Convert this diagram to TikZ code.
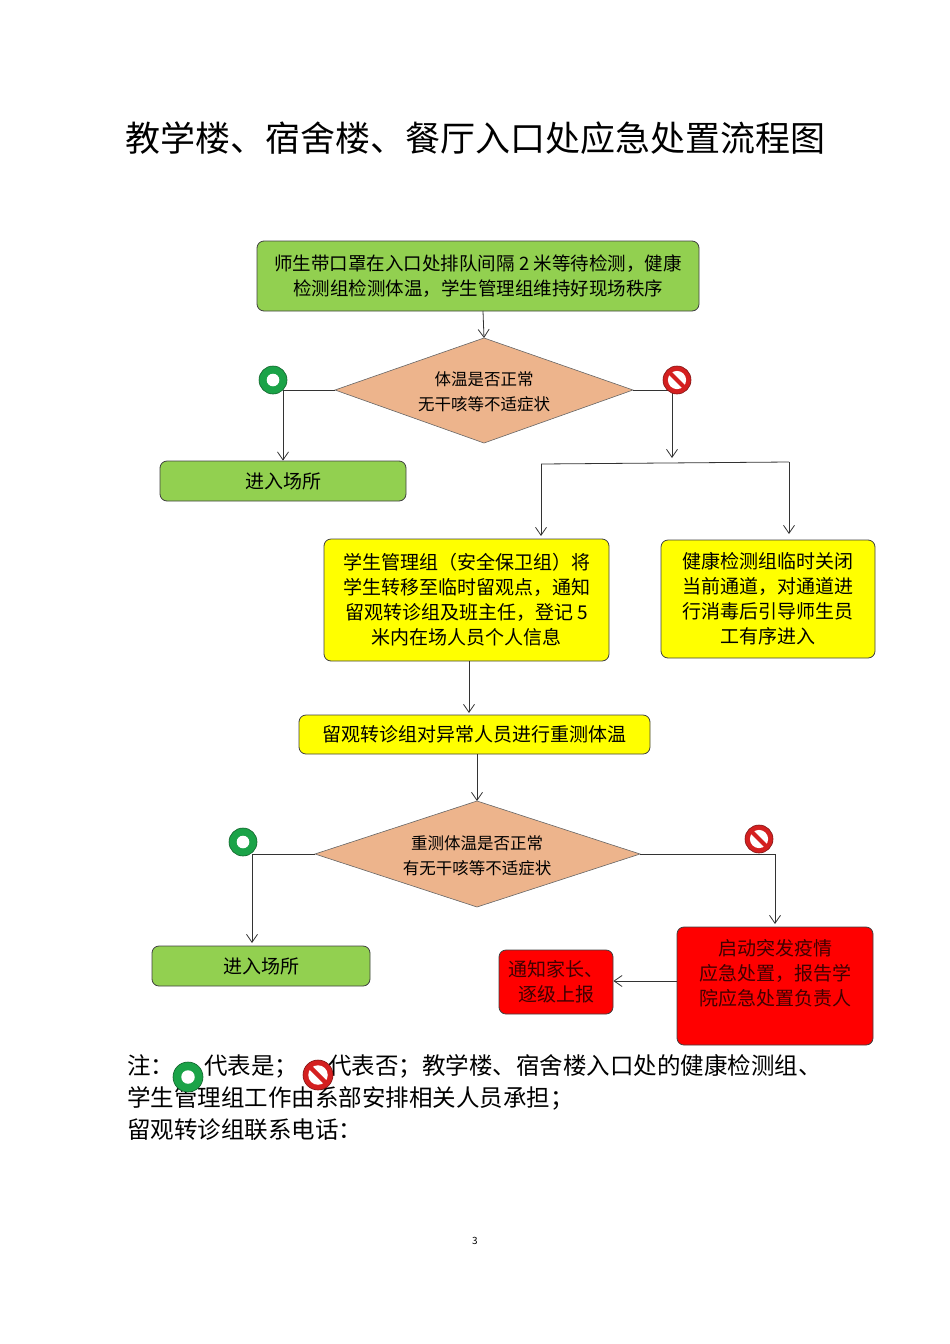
\documentclass[tikz,border=0pt]{standalone}
\usepackage{fontspec}
\setmainfont{Noto Sans CJK SC}
\usetikzlibrary{arrows.meta,calc}
\definecolor{gbox}{HTML}{92D050}
\definecolor{ybox}{HTML}{FFFF00}
\definecolor{rbox}{HTML}{FF0000}
\definecolor{dia}{HTML}{EDB48C}
\definecolor{okg}{HTML}{1BA348}
\definecolor{nor}{HTML}{D42020}
\begin{document}
\begin{tikzpicture}[x=1pt,y=-1pt,
  bx/.style={draw=black!75,line width=0.8pt,rounded corners=7pt,align=center,font=\fontsize{19}{25}\selectfont},
  dm/.style={draw=black!60,fill=dia,line width=0.6pt},
  ar/.style={-{Straight Barb[length=8pt,width=11pt]},line width=0.8pt,draw=black!80},
  ln/.style={line width=0.8pt,draw=black!80}]
\useasboundingbox (0,0) rectangle (950,1344);
\newcommand{\okicon}[2]{\fill[okg,draw=okg!60!black,line width=0.6pt] (#1) circle (#2); \fill[white] (#1) circle (#2*0.45);}
\newcommand{\noicon}[2]{\fill[nor,draw=nor!60!black,line width=0.6pt] (#1) circle (#2); \fill[white] (#1) circle (#2*0.65);
  \draw[nor,line width=#2*0.3pt] ($(#1)+(-#2*0.5,-#2*0.5)$) -- ($(#1)+(#2*0.5,#2*0.5)$);}
\node[font=\fontsize{35}{40}\selectfont] (title) at (475,138) {教学楼、宿舍楼、餐厅入口处应急处置流程图};
\node[bx,fill=gbox,minimum width=442pt,minimum height=70pt,font=\fontsize{18.5}{25}\selectfont] (b1) at (478,276) {师生带口罩在入口处排队间隔 2 米等待检测，健康\\检测组检测体温，学生管理组维持好现场秩序};
\draw[dm] (335,390) coordinate (d1l) -- (484,338) coordinate (d1t) -- (633,390) coordinate (d1r) -- (484,443) -- cycle;
\node[font=\fontsize{16.5}{25}\selectfont,align=center] (d1) at (484,392) {体温是否正常\\无干咳等不适症状};
\draw[ar] (483,311) -- (d1t);
\coordinate (g1) at (273,380); \coordinate (r1) at (677,380);
\node[bx,fill=gbox,minimum width=246pt,minimum height=40pt] (e1) at (283,481) {进入场所};
\draw[ln] (d1l) -- (283,390);
\draw[ar] (283,390) -- (e1.north);
\draw[ln] (d1r) -- (672,390);
\draw[ar] (672,390) -- (672,458);
\okicon{g1}{14}
\noicon{r1}{14}
\node[bx,fill=ybox,minimum width=285pt,minimum height=122pt] (ya) at (466.5,600) {学生管理组（安全保卫组）将\\学生转移至临时留观点，通知\\留观转诊组及班主任，登记 5\\米内在场人员个人信息};
\node[bx,fill=ybox,minimum width=214pt,minimum height=118pt] (yb) at (768,599) {健康检测组临时关闭\\当前通道，对通道进\\行消毒后引导师生员\\工有序进入};
\draw[ln] (541,464) -- (789,462);
\draw[ar] (541,464) -- (541,536);
\draw[ar] (789,462) -- (789,534);
\node[bx,fill=ybox,minimum width=351pt,minimum height=39pt] (c) at (474.5,734.5) {留观转诊组对异常人员进行重测体温};
\draw[ar] (469,661) -- (469,713);
\draw[dm] (315,854) coordinate (d2l) -- (477,801) coordinate (d2t) -- (640,854) coordinate (d2r) -- (477,907) -- cycle;
\node[font=\fontsize{16.5}{25}\selectfont,align=center] (d2) at (477,856) {重测体温是否正常\\有无干咳等不适症状};
\draw[ar] (477,754) -- (d2t);
\node[bx,fill=gbox,minimum width=218pt,minimum height=40pt] (e2) at (261,966) {进入场所};
\draw[ln] (d2l) -- (252,854);
\draw[ar] (252,854) -- (252,943);
\draw[ln] (d2r) -- (775,854);
\draw[ar] (775,854) -- (775,924);
\okicon{243,842}{14}
\noicon{759,839}{14}
\node[bx,fill=rbox,minimum width=196pt,minimum height=118pt] (rd) at (775,986) {};
\node[bx,draw=none,text=black!75!red] (rdt) at (775,973) {启动突发疫情\\应急处置，报告学\\院应急处置负责人};
\node[bx,fill=rbox,text=black!75!red,minimum width=114pt,minimum height=64pt] (re) at (556,982) {通知家长、\\逐级上报};
\draw[ar] (rd.west |- 0,981) -- (re.east |- 0,981);
\node[anchor=north west,align=left,font=\fontsize{23.5}{32}\selectfont,inner sep=0pt] (note) at (127,1054) {注：\hspace{30pt}代表是；\hspace{30pt}代表否；教学楼、宿舍楼入口处的健康检测组、\\学生管理组工作由系部安排相关人员承担；\\留观转诊组联系电话：};
\okicon{188,1077}{15}
\noicon{318,1075}{15}
\node[font=\fontsize{10}{12}\selectfont] (pg) at (475,1241) {3};
\end{tikzpicture}
\end{document}
